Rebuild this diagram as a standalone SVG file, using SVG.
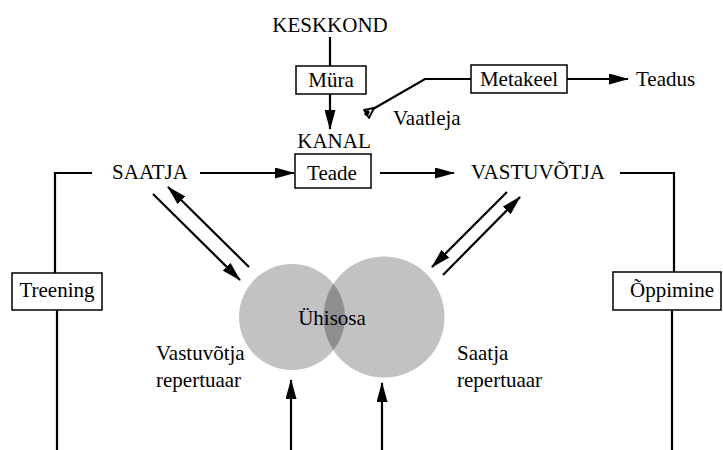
<svg xmlns="http://www.w3.org/2000/svg" width="723" height="450" viewBox="0 0 723 450">
  <defs>
    <style>
      text { font-family: "Liberation Serif", "Times New Roman", serif; font-size: 21px; fill: #000; }
      .mid { text-anchor: middle; }
      .box { fill: #fff; stroke: #000; stroke-width: 1.5; }
      .ln { fill: none; stroke: #000; stroke-width: 2.2; }
      .arr { fill: none; stroke: #000; stroke-width: 2.2; marker-end: url(#head); }
      .disc { fill: #c2c2c2; }
    </style>
    <marker id="head" viewBox="0 0 20 11" refX="19" refY="5.5" markerWidth="20" markerHeight="11" markerUnits="userSpaceOnUse" orient="auto">
      <path d="M0,0 L20,5.5 L0,11 Z" fill="#000"/>
    </marker>
    <clipPath id="leftDisc">
      <circle cx="292" cy="317" r="53"/>
    </clipPath>
  </defs>

  <!-- repertoires -->
  <g id="repertuaarid">
    <circle class="disc" cx="292" cy="317" r="53"/>
    <circle class="disc" cx="384" cy="317" r="60.5"/>
    <circle cx="384" cy="317" r="60.5" fill="#8f8f8f" clip-path="url(#leftDisc)"/>
    <text class="mid" x="332" y="325">Ühisosa</text>
    <text x="156" y="360">Vastuvõtja</text>
    <text x="156" y="387">repertuaar</text>
    <text x="457" y="360">Saatja</text>
    <text x="457" y="387">repertuaar</text>
  </g>

  <!-- connectors -->
  <g id="connectors">
    <line class="ln" x1="330" y1="37" x2="330" y2="66"/>
    <line class="arr" x1="330" y1="94" x2="330" y2="129"/>
    <line class="arr" x1="200" y1="173" x2="294" y2="173"/>
    <line class="arr" x1="380" y1="173" x2="454" y2="173"/>
    <line class="arr" x1="567" y1="79" x2="628" y2="79"/>
    <polyline class="ln" points="471,79 425,79 373,109"/>
    <polyline class="ln" points="92,173 55,173 55,273"/>
    <line class="ln" x1="57" y1="310" x2="57" y2="450"/>
    <polyline class="ln" points="620,173 674,173 674,272"/>
    <line class="ln" x1="672" y1="310" x2="672" y2="450"/>
    <line class="arr" x1="153" y1="194" x2="240" y2="280"/>
    <line class="arr" x1="249" y1="267" x2="168" y2="187"/>
    <line class="arr" x1="507" y1="192" x2="432" y2="267"/>
    <line class="arr" x1="443" y1="275" x2="520" y2="197"/>
    <line class="arr" x1="291" y1="450" x2="291" y2="380"/>
    <line class="arr" x1="382" y1="450" x2="382" y2="383"/>
  </g>

  <!-- observer eye -->
  <g id="vaatleja">
    <path d="M374,108 L364,110 L369,118 Z" fill="#fff" stroke="#000" stroke-width="1.8" stroke-linejoin="round"/>
    <ellipse cx="367" cy="113" rx="2.2" ry="3" fill="#000" transform="rotate(35 367 113)"/>
    <text x="393" y="125">Vaatleja</text>
  </g>

  <g id="keskkond">
    <text class="mid" x="330" y="32">KESKKOND</text>
  </g>

  <g id="mura">
    <rect class="box" x="296" y="66" width="70" height="28"/>
    <text class="mid" x="331" y="87">Müra</text>
  </g>

  <g id="kanal">
    <text class="mid" x="334" y="148">KANAL</text>
  </g>

  <g id="teade">
    <rect class="box" x="295" y="154" width="76" height="34"/>
    <text class="mid" x="332" y="180">Teade</text>
  </g>

  <g id="metakeel">
    <rect class="box" x="471" y="65" width="96" height="28"/>
    <text class="mid" x="519" y="86">Metakeel</text>
  </g>

  <g id="teadus">
    <text x="636" y="86">Teadus</text>
  </g>

  <g id="saatja">
    <text class="mid" x="150" y="179">SAATJA</text>
  </g>

  <g id="vastuvotja">
    <text class="mid" x="538" y="179">VASTUVÕTJA</text>
  </g>

  <g id="treening">
    <rect class="box" x="12" y="273" width="90" height="37"/>
    <text class="mid" x="57" y="297">Treening</text>
  </g>

  <g id="oppimine">
    <rect class="box" x="613" y="272" width="108" height="38"/>
    <text class="mid" x="672" y="297">Õppimine</text>
  </g>
</svg>
